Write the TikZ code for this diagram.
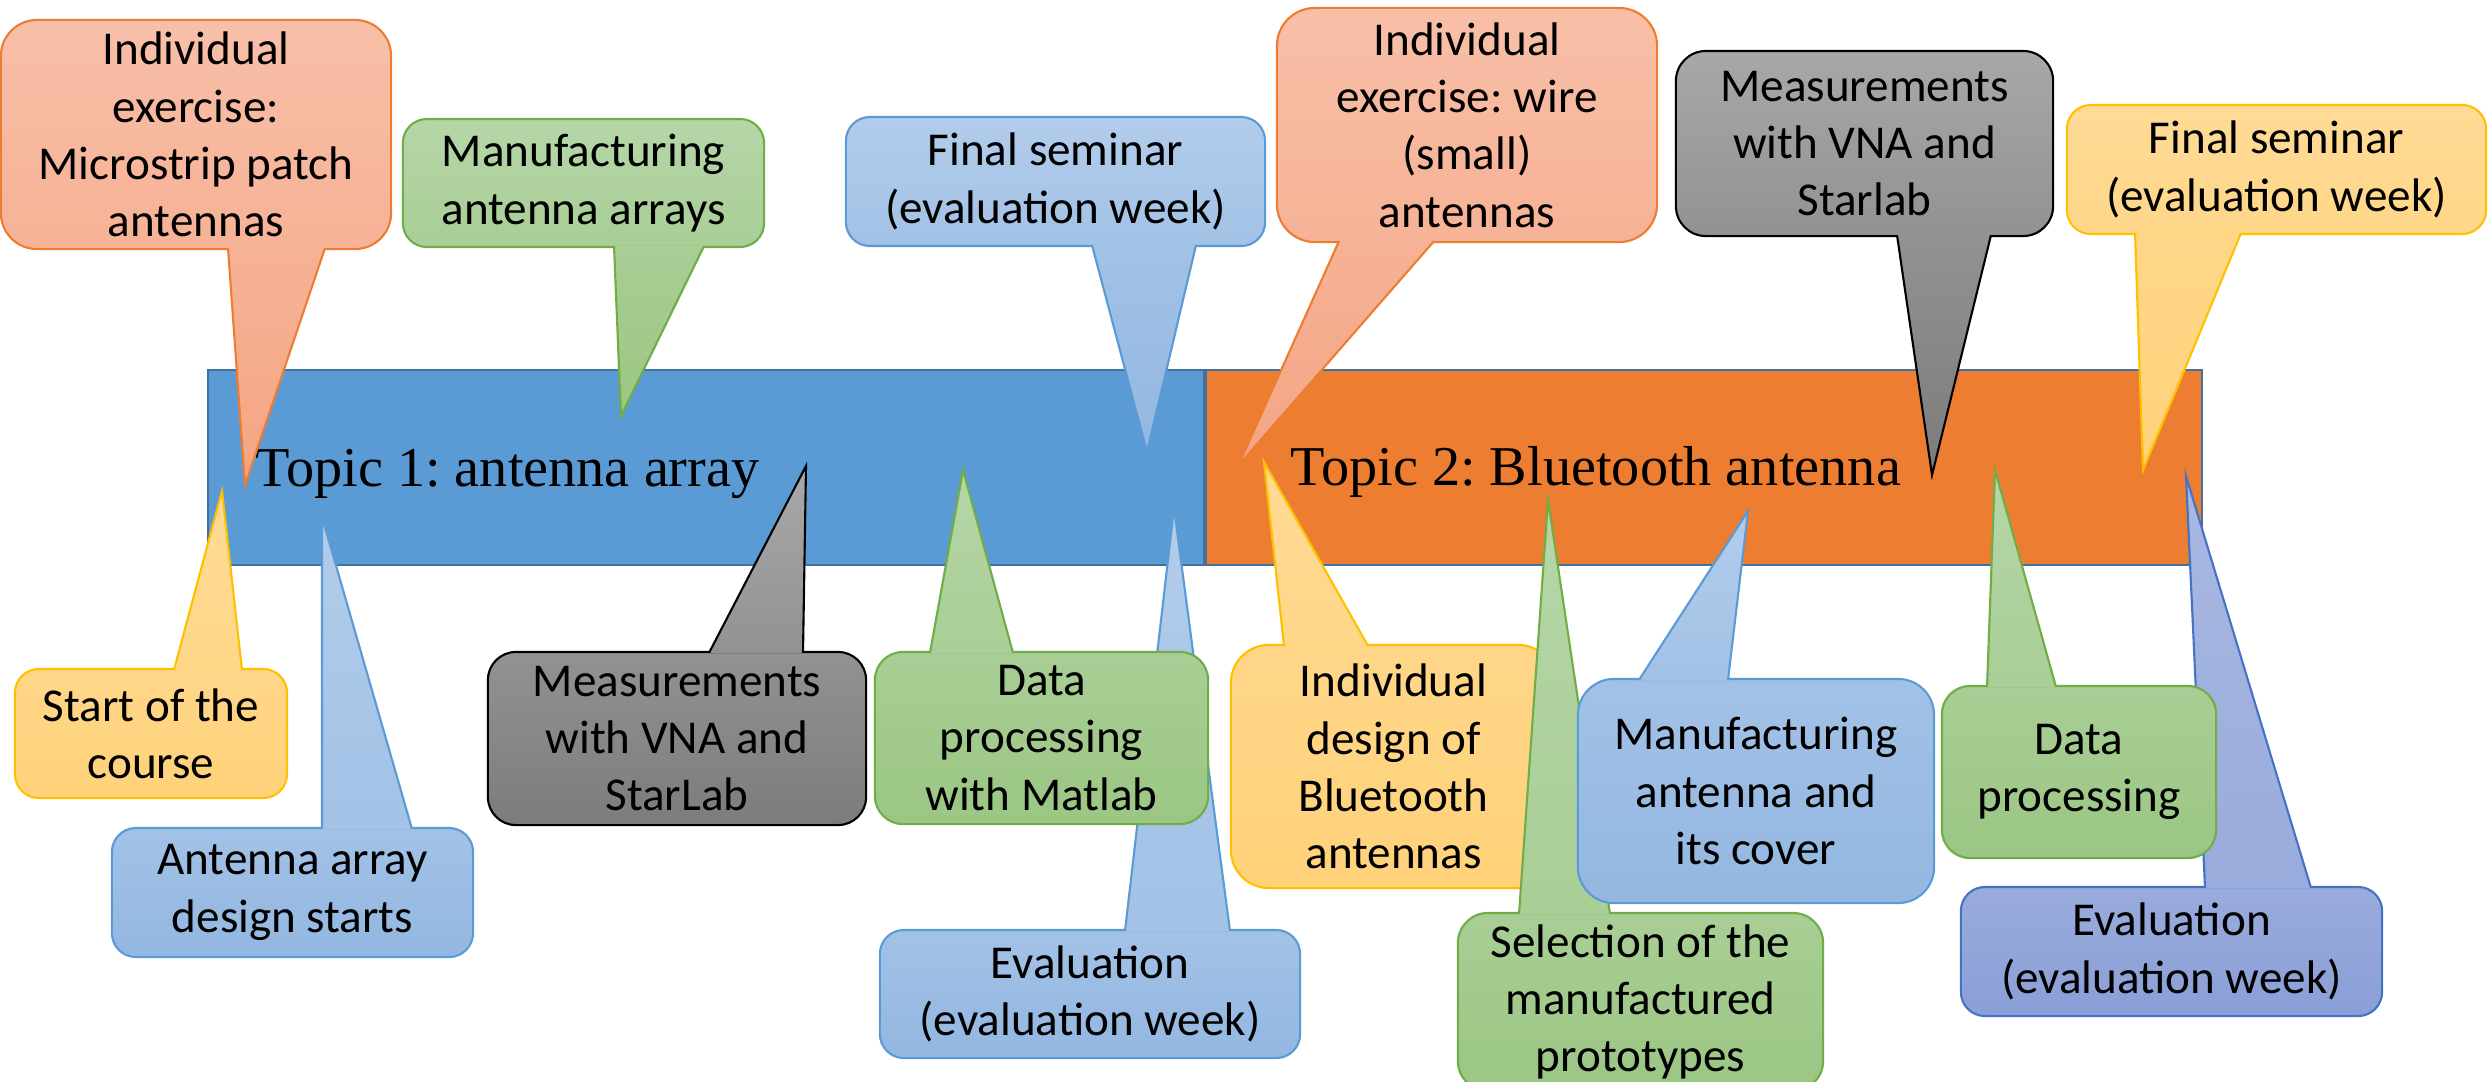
\documentclass[tikz,border=0pt]{standalone}
\usepackage{fontspec}
\setsansfont{Carlito}
\newfontfamily\topicfont{Liberation Serif}
\usepackage{tikz}
\usetikzlibrary{calc}
\frenchspacing

% callout colours: A = top, C = bottom, L = outline
\definecolor{salA}{HTML}{F8BFA8}
\definecolor{salC}{HTML}{F4A583}
\definecolor{salL}{HTML}{ED7D31}
\definecolor{grnA}{HTML}{B6D6A8}
\definecolor{grnC}{HTML}{9BC683}
\definecolor{grnL}{HTML}{70AD47}
\definecolor{bluA}{HTML}{B2CCEB}
\definecolor{bluC}{HTML}{93B7E1}
\definecolor{bluL}{HTML}{5B9BD5}
\definecolor{yelA}{HTML}{FFDB97}
\definecolor{yelC}{HTML}{FFD27A}
\definecolor{yelL}{HTML}{FFC000}
\definecolor{gryA}{HTML}{A8A8A8}
\definecolor{gryC}{HTML}{7C7C7C}
\colorlet{gryL}{black}
\definecolor{perA}{HTML}{A9B8E1}
\definecolor{perC}{HTML}{8A9FD7}
\definecolor{perL}{HTML}{4472C4}
\colorlet{salB}{salA!50!salC}
\colorlet{grnB}{grnA!50!grnC}
\colorlet{bluB}{bluA!50!bluC}
\colorlet{yelB}{yelA!50!yelC}
\colorlet{gryB}{gryA!50!gryC}
\colorlet{perB}{perA!50!perC}
% timeline bars
\definecolor{barA}{HTML}{5B9BD5}
\definecolor{barB}{HTML}{ED7D31}
\definecolor{barL}{HTML}{41719C}

\tikzset{
  box/.style={draw=#1L, line width=0.6pt, align=center, inner sep=0pt,
    rounded corners=0.24cm, font=\sffamily\fontsize{13.4}{16.3}\selectfont},
  upbox/.style={box=#1, top color=#1A, bottom color=#1B},
  lowbox/.style={box=#1, top color=#1B, bottom color=#1C},
  downtail/.style={draw=#1L, line width=0.6pt, top color=#1B, bottom color=#1C},
  uptail/.style={draw=#1L, line width=0.6pt, top color=#1A, bottom color=#1B},
  bar/.style={draw=barL, line width=0.6pt, minimum width=9.96cm, minimum height=1.95cm, inner sep=0pt},
  topic/.style={anchor=base west, inner sep=0pt, font=\topicfont\fontsize{16}{18}\selectfont}
}

\begin{document}
\begin{tikzpicture}[x=0.01cm, y=-0.01cm]
  \useasboundingbox (0,0) rectangle (2491,1081);

  % the two topics
  \node[bar, fill=barA] (bar1) at (706,467.5) {};
  \node[bar, fill=barB] (bar2) at (1704,467.5) {};
  \node[topic] (topic1) at (255,486) {Topic 1: antenna array};
  \node[topic] (topic2) at (1290,485) {Topic 2: Bluetooth antenna};

  % callouts above the bars
  \node[upbox=sal, minimum width=3.9cm, minimum height=2.29cm, rounded corners=0.36cm] (patch) at (196,134.5) {Individual\\exercise:\\Microstrip patch\\antennas};
  \coordinate (patchtip) at (245,485);
  \path[downtail=sal] ($(228,0 |- patch.south)+(0,-2)$) -- (patchtip) -- ($(325,0 |- patch.south)+(0,-2)$);

  \node[upbox=grn, minimum width=3.61cm, minimum height=1.28cm] (manarr) at (583.5,183) {Manufacturing\\antenna arrays};
  \coordinate (manarrtip) at (621,416);
  \path[downtail=grn] ($(614,0 |- manarr.south)+(0,-2)$) -- (manarrtip) -- ($(704,0 |- manarr.south)+(0,-2)$);

  \node[upbox=blu, minimum width=4.19cm, minimum height=1.29cm] (semA) at (1055.5,181.5) {Final seminar\\(evaluation week)};
  \coordinate (semAtip) at (1147,452);
  \path[downtail=blu] ($(1092,0 |- semA.south)+(0,-2)$) -- (semAtip) -- ($(1196,0 |- semA.south)+(0,-2)$);

  \node[upbox=sal, minimum width=3.8cm, minimum height=2.34cm, rounded corners=0.38cm] (wire) at (1467,125) {Individual\\exercise: wire\\(small)\\antennas};
  \coordinate (wiretip) at (1238,466);
  \path[downtail=sal] ($(1339,0 |- wire.south)+(0,-2)$) -- (wiretip) -- ($(1434,0 |- wire.south)+(0,-2)$);

  \node[upbox=gry, minimum width=3.77cm, minimum height=1.85cm, rounded corners=0.3cm] (measB) at (1864.5,143.5) {Measurements\\with VNA and\\Starlab};
  \coordinate (measBtip) at (1932,475);
  \path[downtail=gry] ($(1897,0 |- measB.south)+(0,-2)$) -- (measBtip) -- ($(1991,0 |- measB.south)+(0,-2)$);

  \node[upbox=yel, minimum width=4.19cm, minimum height=1.29cm] (semB) at (2276.5,169.5) {Final seminar\\(evaluation week)};
  \coordinate (semBtip) at (2143,470);
  \path[downtail=yel] ($(2135,0 |- semB.south)+(0,-2)$) -- (semBtip) -- ($(2241,0 |- semB.south)+(0,-2)$);

  % callouts below the bars
  \node[lowbox=yel, minimum width=2.72cm, minimum height=1.29cm] (start) at (151,733.5) {Start of the\\course};
  \coordinate (starttip) at (222,491);
  \path[uptail=yel] ($(174,0 |- start.north)+(0,2)$) -- (starttip) -- ($(242,0 |- start.north)+(0,2)$);

  \node[lowbox=blu, minimum width=3.61cm, minimum height=1.29cm] (design) at (292.5,892.5) {Antenna array\\design starts};
  \coordinate (designtip) at (322,517);
  \path[uptail=blu] ($(322,0 |- design.north)+(0,2)$) -- (designtip) -- ($(412,0 |- design.north)+(0,2)$);

  \node[lowbox=gry, minimum width=3.78cm, minimum height=1.73cm, rounded corners=0.28cm] (measA) at (677,738.5) {Measurements\\with VNA and\\StarLab};
  \coordinate (measAtip) at (806,466);
  \path[uptail=gry] ($(709,0 |- measA.north)+(0,2)$) -- (measAtip) -- ($(803,0 |- measA.north)+(0,2)$);

  \node[lowbox=blu, minimum width=4.2cm, minimum height=1.28cm] (evalA) at (1090,994) {Evaluation\\(evaluation week)};
  \coordinate (evalAtip) at (1174,508);
  \path[uptail=blu] ($(1125,0 |- evalA.north)+(0,2)$) -- (evalAtip) -- ($(1230,0 |- evalA.north)+(0,2)$);

  \node[lowbox=grn, minimum width=3.33cm, minimum height=1.72cm, rounded corners=0.28cm] (dataA) at (1041.5,738) {Data\\processing\\with Matlab};
  \coordinate (dataAtip) at (963,470);
  \path[uptail=grn] ($(930,0 |- dataA.north)+(0,2)$) -- (dataAtip) -- ($(1013,0 |- dataA.north)+(0,2)$);

  \node[lowbox=yel, minimum width=3.25cm, minimum height=2.43cm, rounded corners=0.38cm] (bluet) at (1393.5,766.5) {Individual\\design of\\Bluetooth\\antennas};
  \coordinate (bluettip) at (1264,462);
  \path[uptail=yel] ($(1284,0 |- bluet.north)+(0,2)$) -- (bluettip) -- ($(1368,0 |- bluet.north)+(0,2)$);

  \node[lowbox=grn, minimum width=3.65cm, minimum height=1.78cm, rounded corners=0.3cm] (select) at (1640.5,1002) {Selection of the\\manufactured\\prototypes};
  \coordinate (selecttip) at (1548,500);
  \path[uptail=grn] ($(1519,0 |- select.north)+(0,2)$) -- (selecttip) -- ($(1610,0 |- select.north)+(0,2)$);

  \node[lowbox=blu, minimum width=3.56cm, minimum height=2.24cm, rounded corners=0.36cm] (mancov) at (1756,791) {Manufacturing\\antenna and\\its cover};
  \coordinate (mancovtip) at (1748,511);
  \path[uptail=blu] ($(1639,0 |- mancov.north)+(0,2)$) -- (mancovtip) -- ($(1728,0 |- mancov.north)+(0,2)$);

  \node[lowbox=per, minimum width=4.21cm, minimum height=1.29cm] (evalB) at (2171.5,951.5) {Evaluation\\(evaluation week)};
  \coordinate (evalBtip) at (2186,476);
  \path[uptail=per] ($(2205,0 |- evalB.north)+(0,2)$) -- (evalBtip) -- ($(2311,0 |- evalB.north)+(0,2)$);

  \node[lowbox=grn, minimum width=2.74cm, minimum height=1.72cm, rounded corners=0.28cm] (dataB) at (2079,772) {Data\\processing};
  \coordinate (dataBtip) at (1995,470);
  \path[uptail=grn] ($(1987,0 |- dataB.north)+(0,2)$) -- (dataBtip) -- ($(2056,0 |- dataB.north)+(0,2)$);
\end{tikzpicture}
\end{document}
